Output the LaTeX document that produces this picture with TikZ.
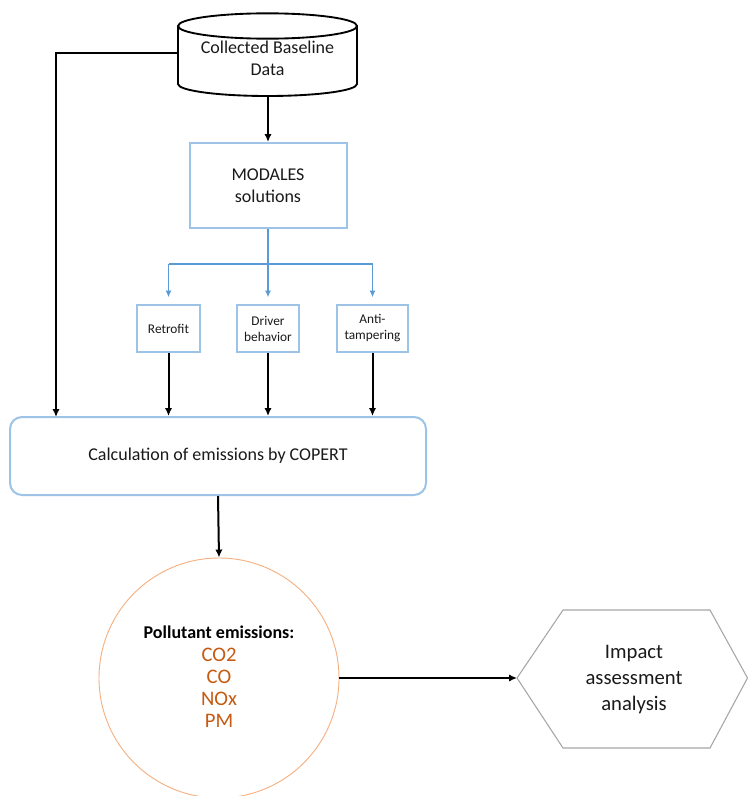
\documentclass[tikz,border=0pt]{standalone}
\usepackage{fontspec}
\setmainfont{Carlito}
\usetikzlibrary{arrows.meta}
\definecolor{boxblue}{HTML}{9DC3E6}
\definecolor{lineblue}{HTML}{5B9BD5}
\definecolor{circorange}{HTML}{F4B183}
\definecolor{txtorange}{HTML}{C55A11}
\definecolor{hexgray}{HTML}{A6A6A6}
\definecolor{txt}{HTML}{1A1A1A}
\begin{document}
\begin{tikzpicture}[x=0.75pt,y=-0.75pt,
  bluebox/.style={draw=boxblue,line width=1.5pt,fill=white,align=center,inner sep=2pt,text=txt},
  smallbox/.style={bluebox,font=\fontsize{10}{12}\selectfont,minimum height=35.25pt},
  blk/.style={line width=1.5pt,draw=black,-{Latex[length=6pt,width=5.5pt]}},
  blu/.style={line width=1.3pt,draw=lineblue,-{Latex[length=5pt,width=4.5pt]}},
  bigtext/.style={font=\fontsize{13.5}{16.5}\selectfont,text=txt,align=center}]
\useasboundingbox (0,0) rectangle (748,796);
% cylinder
\draw[line width=1.4pt,fill=white] (178,26) -- (178,84) arc[start angle=180,end angle=360,x radius=67.125pt,y radius=9pt] -- (357,26);
\draw[line width=1.4pt] (267.5,26) ellipse [x radius=67.125pt,y radius=9.5pt];
\node[bigtext,minimum width=134.25pt,minimum height=60pt,inner sep=0pt] (cyl) at (267.5,58) {Collected Baseline\\Data};
\coordinate (cylbot) at (268,96);
\coordinate (cylleft) at (178,53);
% MODALES
\node[bluebox,bigtext,minimum width=117.75pt,minimum height=63.75pt] (mod) at (268,185.5) {MODALES\\solutions};
% small boxes
\node[smallbox,minimum width=47.25pt] (ret) at (168.5,328.5) {Retrofit};
\node[smallbox,minimum width=46.5pt] (drv) at (268,328.5) {Driver\\behavior};
\node[smallbox,minimum width=53.25pt] (anti) at (372.5,328.5) {Anti-\\tampering};
% COPERT
\node[bluebox,bigtext,rounded corners=9pt,minimum width=312pt,minimum height=58.5pt] (cop) at (218,456) {Calculation of emissions by COPERT};
% circle
\node[circle,draw=circorange,line width=0.7pt,minimum size=180pt,inner sep=0pt,align=center] (pol) at (219,678) {};
\node[align=center,font=\fontsize{13.5}{16}\selectfont\bfseries,text=black] (poltitle) at (219,632) {Pollutant emissions:};
\node[align=center,font=\fontsize{15.5}{16.5}\selectfont,text=txtorange] (polist) at (219,688) {CO2\\CO\\NOx\\PM};
% hexagon
\draw[hexgray,line width=0.8pt,fill=white] (517,678) -- (563,610) -- (710,610) -- (747.5,678) -- (710,748) -- (563,748) -- cycle;
\node[font=\fontsize{15.5}{19.5}\selectfont,text=txt,align=center] (imp) at (634,680) {Impact\\assessment\\analysis};
\coordinate (hexleft) at (517,678);
% connectors
\draw[blk] (cylbot) -- (mod.north);
\coordinate (bj) at (268,264);
\draw[line width=1.3pt,lineblue] (mod.south) -- (bj);
\draw[line width=1.3pt,lineblue] (168.5,264) -- (372.5,264);
\draw[blu] (168.5,264) -- ([yshift=5pt]ret.north);
\draw[blu] (268,264) -- ([yshift=5pt]drv.north);
\draw[blu] (372.5,264) -- ([yshift=5pt]anti.north);
\draw[blk] (ret.south) -- (ret.south |- cop.north);
\draw[blk] (drv.south) -- (drv.south |- cop.north);
\draw[blk] (anti.south) -- (anti.south |- cop.north);
\draw[blk] (cylleft) -- (56,53) -- (56,417);
\draw[blk] (cop.south) -- (pol.north);
\draw[blk] (pol.east) -- (hexleft);
\end{tikzpicture}
\end{document}
